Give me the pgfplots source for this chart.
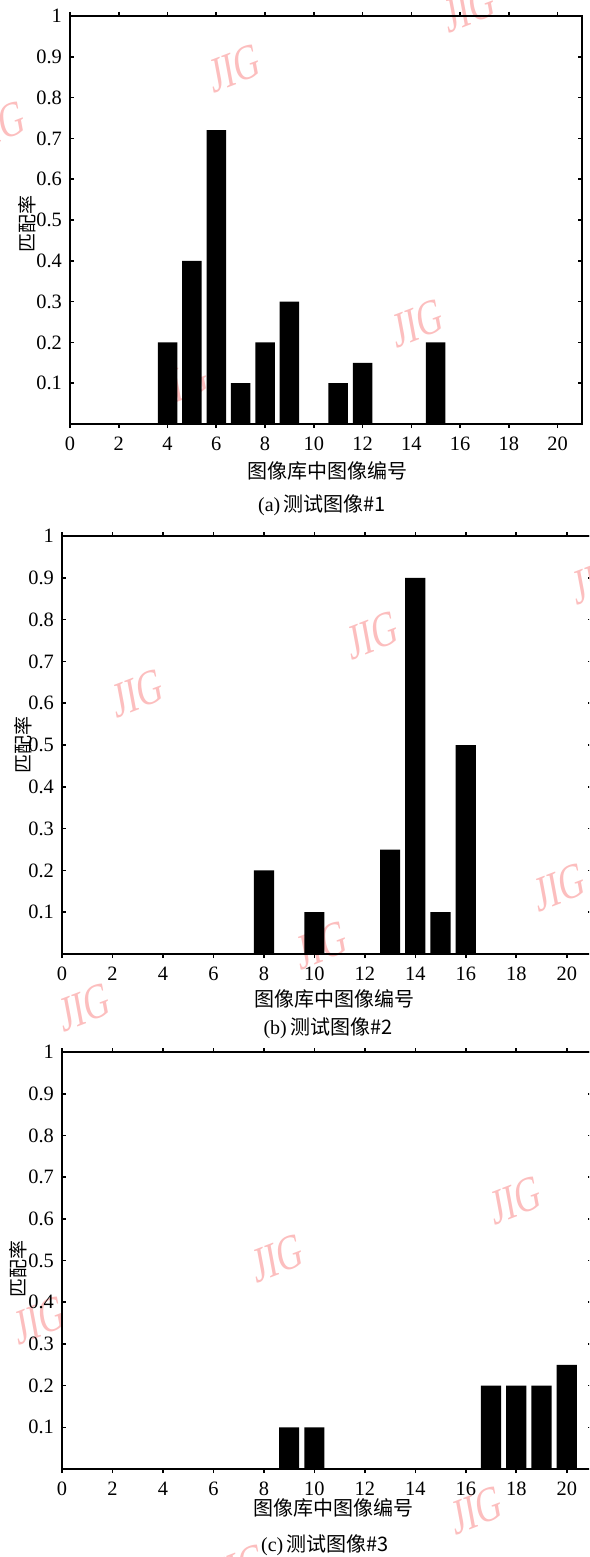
\documentclass[border=0pt]{standalone}
\usepackage{pgfplots}
\pgfplotsset{compat=1.18}
\usepackage{fontspec}
\setmainfont{Liberation Serif}
\newfontfamily\cjk{Noto Sans CJK SC}
\definecolor{wm}{RGB}{252,190,190}

\pgfplotsset{
  panel/.style={
    scale only axis, anchor=north west,
    xmin=0, xmax=21, ymin=0, ymax=1,
    xtick={0,2,...,20},
    ytick={0.1,0.2,0.3,0.4,0.5,0.6,0.7,0.8,0.9,1},
    yticklabels={0.1,0.2,0.3,0.4,0.5,0.6,0.7,0.8,0.9,1},
    tick align=inside, tick pos=both,
    major tick length=2pt,
    axis line style={line width=0.9pt},
    every tick/.style={black, line width=0.8pt},
    tick label style={font=\fontsize{10.2}{11}\selectfont},
    /pgf/number format/assume math mode=true,
    xticklabel style={yshift=-1pt},
    yticklabel style={xshift=-0.5pt},
    ybar, bar width=0.8, clip=false,
  },
  bars/.style={fill=black, draw=none},
}
\tikzset{wmark/.style={text=wm, font=\fontsize{25}{25}\selectfont, xscale=0.7, rotate=15}}

\begin{document}
\begin{tikzpicture}
\useasboundingbox (0,0) rectangle (294.5pt,-778.5pt);
\clip (0,0) rectangle (294.5pt,-778.5pt);

% watermarks
\foreach \x/\y in {235/-68, 470/-8, 0/-125, 183/-383, 418/-323,
                   373/-635, 138/-693, 560/-887, 322/-945, 85/-1007, 598/-580,
                   516/-1200, 278/-1258, 40/-1320, 477/-1510, 240/-1568}
  \node[wmark] at (\x*0.5pt, \y*0.5pt) {JIG};

% (a)
\begin{axis}[panel, at={(35pt,-8pt)}, width=256pt, height=204pt]
\addplot[bars] coordinates {
 (1,0) (2,0) (3,0) (4,0.2) (5,0.4) (6,0.72) (7,0.1) (8,0.2) (9,0.3) (10,0)
 (11,0.1) (12,0.15) (13,0) (14,0) (15,0.2) (16,0) (17,0) (18,0) (19,0) (20,0)};
\end{axis}

% (b)
\begin{axis}[panel, at={(31pt,-268pt)}, width=265pt, height=209pt]
\addplot[bars] coordinates {
 (1,0) (2,0) (3,0) (4,0) (5,0) (6,0) (7,0) (8,0.2) (9,0) (10,0.1)
 (11,0) (12,0) (13,0.25) (14,0.9) (15,0.1) (16,0.5) (17,0) (18,0) (19,0) (20,0)};
\end{axis}

% (c)
\begin{axis}[panel, at={(31pt,-526pt)}, width=265pt, height=208.5pt]
\addplot[bars] coordinates {
 (1,0) (2,0) (3,0) (4,0) (5,0) (6,0) (7,0) (8,0) (9,0.1) (10,0.1)
 (11,0) (12,0) (13,0) (14,0) (15,0) (16,0) (17,0.2) (18,0.2) (19,0.2) (20,0.25)};
\end{axis}

% labels
\foreach \x/\y in {13.5/-112, 11.5/-372.5, 9/-634.5}
  \node[rotate=90, font=\cjk\fontsize{9.5}{10}\selectfont] at (\x pt,\y pt) {匹配率};
\foreach \x/\y in {163.5/-235.5, 167/-499.5, 166.5/-754}
  \node[font=\cjk\fontsize{10}{11}\selectfont] at (\x pt,\y pt) {图像库中图像编号};
\node[font=\fontsize{10}{11}\selectfont] at (161pt,-252.5pt) {(a)\,{\cjk 测试图像\#1}};
\node[font=\fontsize{10}{11}\selectfont] at (164pt,-514pt) {(b)\,{\cjk 测试图像\#2}};
\node[font=\fontsize{10}{11}\selectfont] at (162.5pt,-772.5pt) {(c)\,{\cjk 测试图像\#3}};
\end{tikzpicture}
\end{document}
